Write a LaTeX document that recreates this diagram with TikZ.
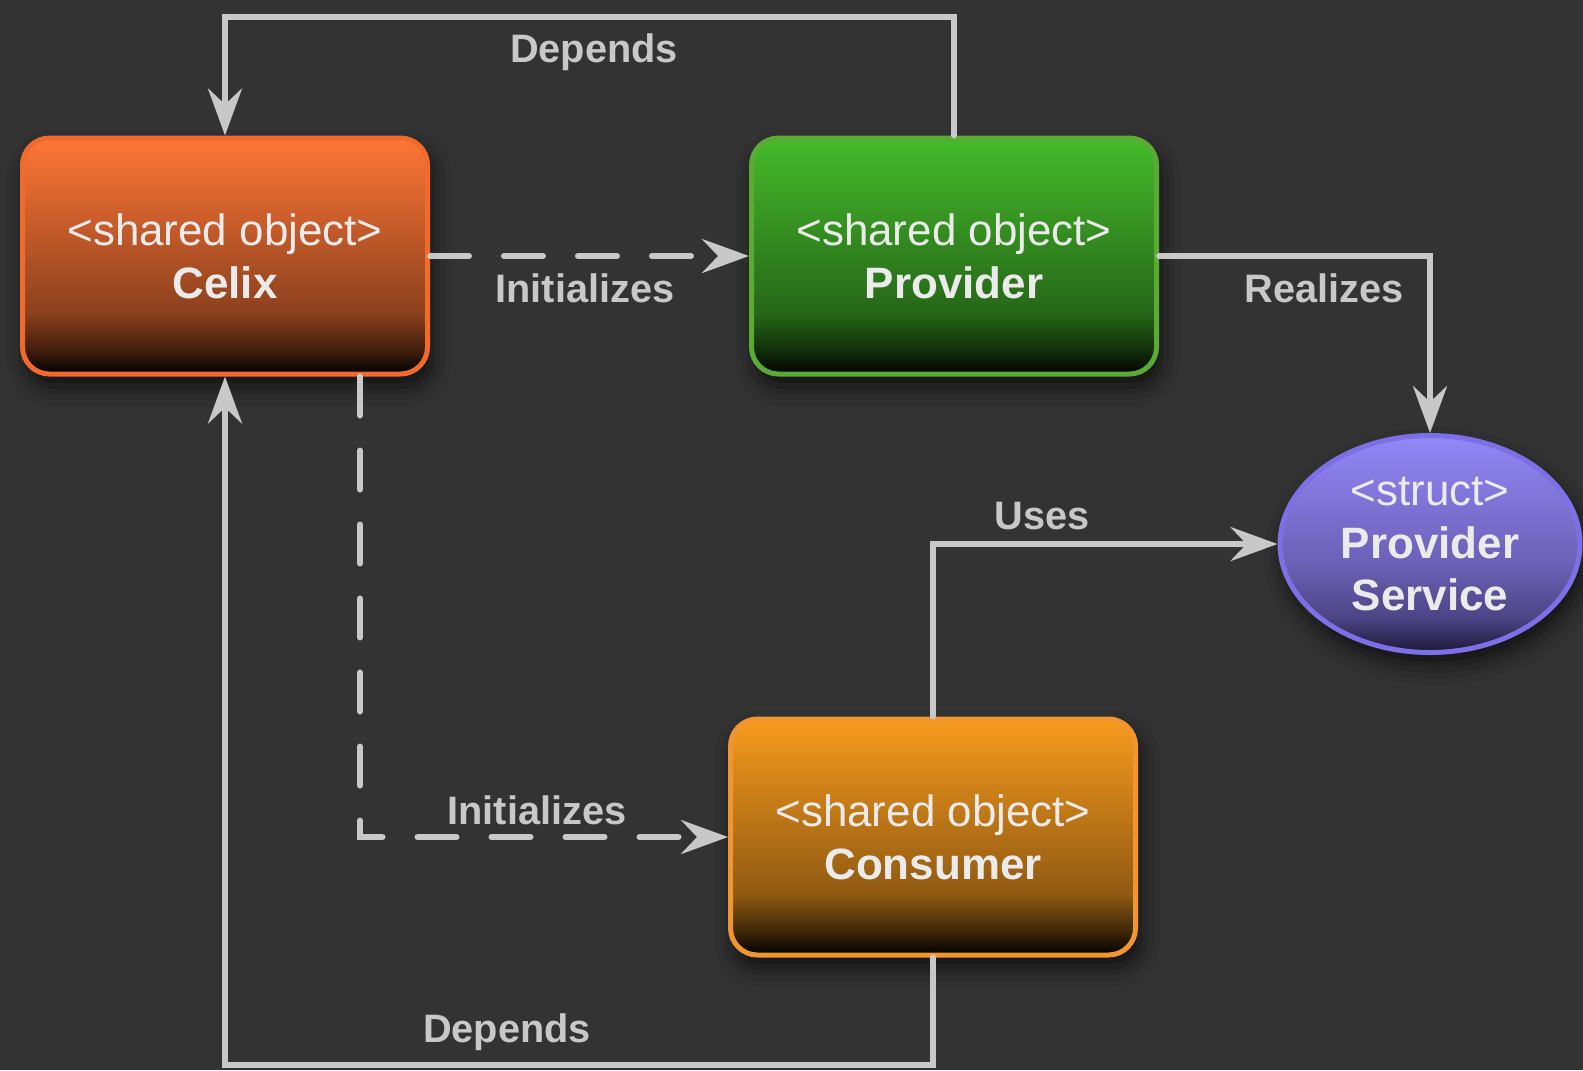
\documentclass[tikz,border=0pt]{standalone}
\usepackage{fontspec}
\setmainfont{Liberation Sans}
\usetikzlibrary{arrows.meta,shapes.geometric,shadows.blur}
\definecolor{bg}{HTML}{333333}
\definecolor{ln}{HTML}{C8C8C8}
\definecolor{txt}{HTML}{EBEBEB}
\definecolor{celixtop}{HTML}{FF7636}
\definecolor{celixline}{HTML}{F06A2C}
\definecolor{provtop}{HTML}{45BB2B}
\definecolor{provline}{HTML}{5AAA35}
\definecolor{constop}{HTML}{F89B1E}
\definecolor{consline}{HTML}{F09530}
\definecolor{servtop}{HTML}{9487F8}
\definecolor{servline}{HTML}{7D70E6}
\definecolor{servbot}{HTML}{1C1838}
\pgfdeclareverticalshading{celixsh}{100bp}{color(0bp)=(black); color(25bp)=(black); color(30bp)=(celixtop!25!black); color(38bp)=(celixtop!55!black); color(75bp)=(celixtop); color(100bp)=(celixtop)}
\pgfdeclareverticalshading{provsh}{100bp}{color(0bp)=(black); color(25bp)=(black); color(30bp)=(provtop!25!black); color(38bp)=(provtop!55!black); color(75bp)=(provtop); color(100bp)=(provtop)}
\pgfdeclareverticalshading{conssh}{100bp}{color(0bp)=(black); color(25bp)=(black); color(30bp)=(constop!25!black); color(38bp)=(constop!58!black); color(75bp)=(constop); color(100bp)=(constop)}
\pgfdeclareverticalshading{servsh}{100bp}{color(0bp)=(servbot); color(25bp)=(servbot); color(33bp)=(servtop!40!servbot); color(45bp)=(servtop!65!servbot); color(75bp)=(servtop); color(100bp)=(servtop)}
\begin{document}
\begin{tikzpicture}[
  so/.style={rectangle, rounded corners=2.7mm, line width=0.5mm, minimum width=4.05cm, minimum height=2.36cm,
    align=center, text=txt, font=\fontsize{12.5}{15}\selectfont, shade,
    blur shadow={shadow xshift=0.4mm, shadow yshift=-1.2mm, shadow blur radius=2mm, shadow opacity=70}},
  e/.style={line width=0.6mm, draw=ln, line cap=round, -{Stealth[length=4.7mm,width=3.4mm,inset=1.6mm]}},
  de/.style={e, dash pattern=on 3.9mm off 3.5mm},
  lbl/.style={text=ln, font=\fontsize{11.3}{13}\selectfont\bfseries}
]
\fill[bg] (0,0) rectangle (15.83,-10.70);
\useasboundingbox (0,0) rectangle (15.83,-10.70);

\node[so, draw=celixline, shading=celixsh] (celix) at (2.25,-2.56) {<shared object>\\\textbf{Celix}};
\node[so, draw=provline, shading=provsh] (provider) at (9.54,-2.56) {<shared object>\\\textbf{Provider}};
\node[so, draw=consline, shading=conssh] (consumer) at (9.33,-8.37) {<shared object>\\\textbf{Consumer}};
\node[so, ellipse, rounded corners=0pt, inner sep=0pt, minimum width=3.0cm, minimum height=2.17cm,
  draw=servline, shading=servsh] (service) at (14.30,-5.44)
  {<struct>\\\textbf{Provider}\\\textbf{Service}};

\draw[e] (provider.north) -- ++(0,1.19) -| (celix.north);
\draw[de] (celix.east) -- (provider.west);
\draw[e] (provider.east) -| (service.north);
\draw[e] (consumer.north) |- (service.west);
\draw[de] ([xshift=1.35cm]celix.south) |- (consumer.west);
\draw[e] (consumer.south) -- ++(0,-1.07) -| (celix.south);

\node[lbl] (dep1) at (5.94,-0.52) {Depends};
\node[lbl] (init1) at (5.85,-2.88) {Initializes};
\node[lbl] (real) at (13.24,-2.88) {Realizes};
\node[lbl] (uses) at (10.42,-5.16) {Uses};
\node[lbl] (init2) at (5.37,-8.10) {Initializes};
\node[lbl] (dep2) at (5.07,-10.32) {Depends};
\end{tikzpicture}
\end{document}
